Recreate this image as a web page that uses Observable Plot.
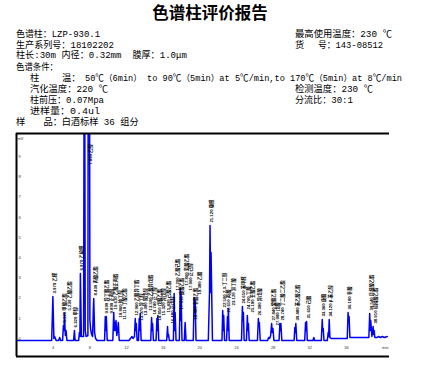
<!DOCTYPE html>
<html><head><meta charset="utf-8">
<script src="https://cdn.jsdelivr.net/npm/d3@7"></script>
<script src="https://cdn.jsdelivr.net/npm/@observablehq/plot@0.6"></script>
<style>
body{margin:0;background:#fff;width:421px;height:366px;overflow:hidden;}
#header{display:block;}
#header text{font-family:"Liberation Mono","Noto Sans CJK SC",monospace;font-size:9.3px;fill:#000;white-space:pre;}
#header text.title{font-family:"Liberation Sans","Noto Sans CJK SC",sans-serif;font-size:16.5px;font-weight:bold;}
#header text.long{font-size:8.6px;}
#chart svg{display:block;}
</style></head><body>
<svg id="header" width="421" height="127" xml:space="preserve">
<text class="title" x="210" y="18.5" text-anchor="middle">色谱柱评价报告</text>
<text x="16" y="36.5" textLength="84" lengthAdjust="spacingAndGlyphs">色谱柱：LZP-930.1</text>
<text x="295" y="36.5" textLength="97" lengthAdjust="spacingAndGlyphs">最高使用温度：230 ℃</text>
<text x="16" y="47.5" textLength="98" lengthAdjust="spacingAndGlyphs">生产系列号：18102202</text>
<text x="295" y="47.5">货</text>
<text x="318" y="47.5" textLength="65" lengthAdjust="spacingAndGlyphs">号：143-08512</text>
<text x="16" y="58.3" textLength="171" lengthAdjust="spacingAndGlyphs">柱长:30m 内径：0.32mm  膜厚：1.0μm</text>
<text x="16" y="69.5" textLength="42" lengthAdjust="spacingAndGlyphs">色谱条件：</text>
<text x="30" y="80.8">柱</text>
<text x="62" y="80.8">温：</text>
<text class="long" x="85" y="80.8" textLength="317" lengthAdjust="spacingAndGlyphs">50℃（6min） to 90℃（5min）at 5℃/min,to 170℃（5min）at 8℃/min</text>
<text x="30" y="91.5" textLength="78" lengthAdjust="spacingAndGlyphs">汽化温度：220 ℃</text>
<text x="295" y="91.5" textLength="78" lengthAdjust="spacingAndGlyphs">检测温度：230 ℃</text>
<text x="30" y="102.5" textLength="74" lengthAdjust="spacingAndGlyphs">柱前压：0.07Mpa</text>
<text x="295" y="102.5" textLength="58" lengthAdjust="spacingAndGlyphs">分流比：30:1</text>
<text x="30" y="113.5" textLength="70" lengthAdjust="spacingAndGlyphs">进样量：0.4ul</text>
<text x="16" y="124.5">样</text>
<text x="43.5" y="124.5">品：</text>
<text x="61.7" y="124.5" textLength="77" lengthAdjust="spacingAndGlyphs">白酒标样 36 组分</text>
</svg>
<div id="chart"></div>
<script>
// Chromatogram trace (time in min, signal in mV)
const traceTime = [
  0.10,
  3.84,3.97,4.08,4.16,4.33,
  4.60,4.71,4.82,
  5.03,5.12,5.18,5.23,5.33,5.41,5.50,
  6.23,6.32,6.39,
  6.78,6.86,6.92,6.97,7.08,
  7.32,7.41,7.50,7.59,7.79,7.89,8.01,8.08,8.19,8.30,8.38,8.43,8.52,8.63,8.79,
  9.61,9.69,9.75,9.80,9.90,
  10.51,10.61,10.68,10.75,10.80,10.86,10.94,11.04,11.11,11.21,
  12.27,12.60,12.71,12.87,12.96,13.01,13.07,13.16,
  13.31,13.39,13.45,13.50,13.60,
  14.65,14.74,14.80,14.85,14.94,
  15.23,15.32,15.37,15.43,15.52,
  16.39,16.48,16.54,16.59,16.68,
  17.12,17.20,17.26,17.31,17.41,
  17.77,17.86,17.91,17.96,18.06,
  18.31,18.40,18.50,
  19.29,19.38,19.43,19.49,19.59,
  20.93,21.06,21.12,21.18,21.23,21.38,
  22.42,22.50,22.56,22.61,22.70,
  22.92,23.02,23.07,23.12,23.21,
  24.55,24.65,24.70,24.76,24.84,
  25.09,25.19,25.25,25.30,25.39,
  26.29,26.39,26.44,26.50,26.59,
  27.40,27.51,27.62,27.73,27.84,27.90,27.98,28.09,
  28.65,28.74,28.79,28.85,28.95,
  30.29,30.37,30.43,30.48,30.58,
  31.45,31.54,31.59,31.65,31.73,
  32.35,32.44,32.52,
  33.26,33.36,33.41,33.47,33.55,
  33.91,34.01,34.06,34.12,34.20,34.37,
  36.09,36.18,36.24,36.29,36.38,
  38.45,38.54,38.59,38.65,38.78,38.91,38.96,39.02,39.10,
  39.37,39.48,39.70,39.92,40.14,40.46
];
const traceSignal = [
  -0.1,
  -0.1,2.08,0,0.1,-0.1,
  -0.1,0.05,-0.1,
  -0.1,0.64,0.4,1.24,0.15,0.4,-0.1,
  -0.1,0.4,-0.1,
  -0.1,0.3,0.1,3.22,0.1,
  0.1,20,0.4,0.1,0.15,40,0.89,0.5,0.2,0.1,1.39,1.98,0.3,0,-0.1,
  -0.1,1.09,0.4,1.09,-0.1,
  -0.1,1.29,0.4,0.79,0.4,0.89,0.15,0.4,0.79,-0.1,
  -0.1,0.1,0,0.1,0.99,0.4,0.74,-0.1,
  -0.1,0.99,0.4,1.24,-0.1,
  -0.1,1.04,0.4,0.74,-0.1,
  -0.1,0.99,0.4,1.14,-0.1,
  -0.1,0.59,0.1,0.2,-0.1,
  -0.1,2.23,0.4,1.29,-0.1,
  -0.1,2.48,0.89,2.23,-0.1,
  -0.1,0.79,-0.1,
  -0.1,2.03,1.39,1.88,-0.1,
  -0.1,2.28,5.59,2.28,4.26,-0.1,
  -0.1,1.39,0.4,1.14,-0.1,
  -0.1,1.09,0.4,1.49,-0.1,
  -0.1,1.58,0.89,1.29,-0.1,
  -0.1,1.14,0.4,0.74,-0.1,
  -0.1,0.99,0.64,0.79,-0.1,
  -0.1,0.05,0,0.15,0.74,0.3,0.5,-0.1,
  -0.1,0.74,0.4,0.74,-0.1,
  -0.1,0.54,0.3,0.74,-0.1,
  -0.1,0.79,0.4,0.84,-0.1,
  -0.1,0.05,-0.1,
  -0.1,0.94,0.4,0.5,-0.1,
  -0.1,0.3,0.1,0.94,0.05,0,
  0,1.29,0.89,1.09,0.05,
  0.05,1.24,0.4,0.89,0.1,0.59,0.2,0.4,0.05,
  0.05,0.1,0.05,0.1,0.05,0.1
];
// Labelled peaks: retention time (min), apex height (mV), component
const peakTime = [3.97,5.12,5.23,6.32,6.97,7.89,8.43,9.69,9.80,10.61,10.86,11.11,12.96,13.07,13.39,13.50,14.74,14.85,15.32,15.43,16.48,17.20,17.31,17.86,17.96,18.40,19.38,21.12,22.50,22.61,23.12,24.65,24.76,25.19,26.39,27.84,27.98,28.74,30.48,31.65,33.36,34.12,36.18,38.54,38.91];
const peakHeight = [2.08,0.64,1.24,0.40,3.22,40,1.98,1.09,1.09,1.29,0.89,0.79,0.99,0.74,0.99,1.24,1.04,0.74,0.99,1.14,0.59,2.23,1.29,2.48,2.23,0.79,2.03,5.59,1.39,1.14,1.49,1.58,1.29,1.14,0.99,0.74,0.50,0.74,0.74,0.84,0.94,0.94,1.29,1.24,0.59];
const peakName = ["乙醛","甲酸乙酯","乙酸乙酯","甲醇","乙缩醛","乙醇","丙酸乙酯","异丁酸乙酯","正丙醇","乙酸正丙酯","仲丁醇","丁酸乙酯","乙酸异丁酯","异丁醇","叔戊醇","乙酸异戊酯","正丁醇","戊酸乙酯","异戊醇","己酸乙酯","正戊醇","乙酸己酯","庚酸乙酯","乳酸乙酯","正己醇","辛酸乙酯","乙酸","糠醛","2,3-丁二醇","丙酸","异丁酸","苯甲醛","丁酸","壬酸乙酯","异戊酸","癸酸乙酯","戊酸","丁二酸二乙酯","苯乙酸乙酯","己酸","庚酸","β-苯乙醇","辛酸","月桂酸乙酯","棕榈酸乙酯"];
const xTicks = [4,8,12,16,20,24,28,32,36];
const yTicks = [0,1,2,3,4,5,6,7,8,9];
const xUnit = "min";
const yUnit = "mV";
const xDomain = [0, 40.7];
const yDomain = [-0.89, 10.15];

const W = 421, H = 239, ML = 16, MR = 32, MT = 6, MB = 10;
const trace = traceTime.map((t, i) => ({t, v: traceSignal[i]}));
const labels = peakTime.map((t, i) => ({t, h: peakHeight[i], name: peakName[i] || ""}));
const pxPerMin = (W - ML - MR) / (xDomain[1] - xDomain[0]);
let prevX = -Infinity;
labels.forEach(d => {
  let x = d.t;
  if ((x - prevX) * pxPerMin < 4.5) x = prevX + 4.5 / pxPerMin;
  d.lx = x; prevX = x;
});
const labelTop = yDomain[1] - 1.7;

const chart = Plot.plot({
  width: W, height: H,
  marginLeft: ML, marginRight: MR, marginTop: MT, marginBottom: MB,
  x: {domain: xDomain, axis: null},
  y: {domain: yDomain, axis: null},
  style: {background: "transparent", fontFamily: "'Liberation Sans','Noto Sans CJK SC', sans-serif", overflow: "visible"},
  marks: [
    Plot.line(trace, {x: "t", y: "v", stroke: "#0000ff", strokeWidth: 1.5, clip: true}),
    Plot.ruleX([xDomain[0]], {stroke: "#000", strokeWidth: 2}),
    Plot.ruleY([yDomain[1], yDomain[0]], {stroke: "#000", strokeWidth: 2}),
    Plot.text(xTicks, {x: d => d, frameAnchor: "bottom", dy: -8, text: d => String(d), fontSize: 4, fill: "#333", textAnchor: "middle"}),
    Plot.text([xUnit], {frameAnchor: "bottom-right", dy: -8, dx: -1, text: d => d, fontSize: 4, fill: "#333", textAnchor: "end"}),
    Plot.text(yTicks, {y: d => d, frameAnchor: "left", dx: 3, text: d => String(d), fontSize: 4, fill: "#333", textAnchor: "middle"}),
    Plot.text([yUnit], {frameAnchor: "top-left", dx: 4, dy: 4, text: d => d, fontSize: 4, fill: "#333", textAnchor: "middle"}),
    Plot.text(labels, {x: "lx", y: d => Math.min(d.h, labelTop), text: d => `${d.t.toFixed(3)} ${d.name}`,
      rotate: -90, textAnchor: "start", lineAnchor: "top", dy: -3, fontSize: 4.3, fontWeight: "bold", fill: "#000"})
  ]
});
document.getElementById("chart").appendChild(chart);
</script>
</body></html>
